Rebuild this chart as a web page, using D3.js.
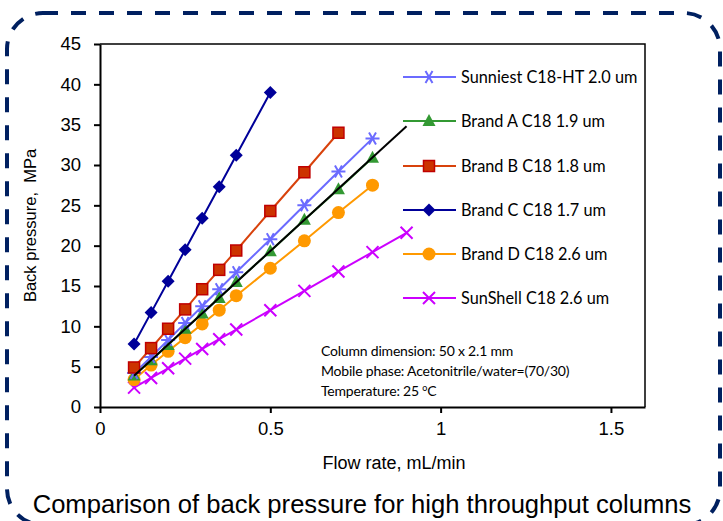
<!DOCTYPE html>
<html>
<head>
<meta charset="utf-8">
<script src="https://cdn.jsdelivr.net/npm/d3@7"></script>
<style>
  body { margin: 0; background: #fff; }
  .axis text { font-family: "Liberation Sans", Arial, sans-serif; font-size: 18.5px; fill: #000; }
  .axis path, .axis line { stroke: #000; stroke-width: 2px; }
  .leg text, .note text { font-family: Lato, "Open Sans", sans-serif; fill: #000; }
</style>
</head>
<body>
<script>

// flow rate, mL/min
var flow = [0.1, 0.15, 0.2, 0.25, 0.3, 0.35, 0.4, 0.5, 0.6, 0.7, 0.8, 0.9];

// back pressure, MPa
var sunniest = [4.2, 6.2, 8.3, 10.4, 12.5, 14.6, 16.7, 20.8, 25.0, 29.2, 33.3];
var brandA   = [3.9, 5.8, 7.7, 9.7, 11.6, 13.5, 15.5, 19.3, 23.2, 27.0, 30.9];
var brandB   = [4.9, 7.3, 9.7, 12.1, 14.6, 17.0, 19.4, 24.3, 29.1, 34.0];
var brandC   = [7.8, 11.7, 15.6, 19.5, 23.4, 27.3, 31.2, 39.0];
var brandD   = [3.4, 5.2, 6.9, 8.6, 10.3, 12.0, 13.8, 17.2, 20.6, 24.1, 27.5];
var sunshell = [2.4, 3.6, 4.8, 6.0, 7.2, 8.4, 9.6, 12.0, 14.4, 16.8, 19.2, 21.6];

// linear trend line drawn on Brand A
var trendX = [0.1, 0.9];
var trendY = [3.87, 34.8];

var names = ["Sunniest C18-HT 2.0 um", "Brand A C18 1.9 um", "Brand B C18 1.8 um",
             "Brand C C18 1.7 um", "Brand D C18 2.6 um", "SunShell C18 2.6 um"];

var xTicks = [0, 0.5, 1, 1.5];
var yTicks = [0, 5, 10, 15, 20, 25, 30, 35, 40, 45];

var series = [
  {name: names[0], vals: sunniest, color: "#6b6bff", fill: "#6b6bff", shape: "star"},
  {name: names[1], vals: brandA,   color: "#339933", fill: "#339933", shape: "tri"},
  {name: names[2], vals: brandB,   color: "#d8420c", fill: "#cc3300", shape: "square", edge: "#c00000"},
  {name: names[3], vals: brandC,   color: "#000099", fill: "#000099", shape: "diamond"},
  {name: names[4], vals: brandD,   color: "#ff9900", fill: "#ff9900", shape: "circle"},
  {name: names[5], vals: sunshell, color: "#cc00ff", fill: "#cc00ff", shape: "x"}
];

var W = 723, H = 521;
var svg = d3.select("body").append("svg")
    .attr("width", W)
    .attr("height", H);

// dashed rounded frame
svg.append("rect")
    .attr("x", 7).attr("y", 13)
    .attr("width", 713).attr("height", 512)
    .attr("rx", 36).attr("ry", 36)
    .attr("fill", "none")
    .attr("stroke", "#002060")
    .attr("stroke-width", 4)
    .attr("stroke-dasharray", "15,13");

var x = d3.scaleLinear().domain([0, 1.6]).range([100, 645]);
var y = d3.scaleLinear().domain([0, 45]).range([407, 44]);

// plot area frame (top + right)
svg.append("path")
    .attr("d", "M" + x(0) + "," + y(45) + "H" + x(1.6) + "V" + y(0))
    .attr("fill", "none")
    .attr("stroke", "#000")
    .attr("stroke-width", 1.5);

// axes
svg.append("g")
    .attr("class", "axis")
    .attr("transform", "translate(0," + y(0) + ")")
    .call(d3.axisBottom(x).tickValues(xTicks).tickSize(6).tickSizeOuter(0).tickPadding(9)
        .tickFormat(function(d) { return d; }));

svg.append("g")
    .attr("class", "axis")
    .attr("transform", "translate(" + x(0) + ",0)")
    .call(d3.axisLeft(y).tickValues(yTicks).tickSize(6).tickSizeOuter(0).tickPadding(13));

svg.append("text")
    .attr("x", 394).attr("y", 469)
    .attr("text-anchor", "middle")
    .style("font-family", "'Liberation Sans', Arial, sans-serif")
    .style("font-size", "18px")
    .text("Flow rate, mL/min");

svg.append("text")
    .attr("transform", "translate(36," + ((y(0) + y(45)) / 2) + ") rotate(-90)")
    .attr("text-anchor", "middle")
    .style("font-family", "'Liberation Sans', Arial, sans-serif")
    .style("font-size", "16.5px")
    .style("white-space", "pre")
    .text("Back pressure,  MPa");

svg.append("text")
    .attr("x", 362).attr("y", 513)
    .attr("text-anchor", "middle")
    .style("font-family", "'Liberation Sans', Arial, sans-serif")
    .style("font-size", "25.6px")
    .text("Comparison of back pressure for high throughput columns");

// marker drawing
function marker(g, s) {
  if (s.shape == "star") {
    g.append("path").attr("d", "M-7,0H7M-3.5,-6L3.5,6M-3.5,6L3.5,-6")
      .attr("stroke", s.color).attr("stroke-width", 2).attr("fill", "none");
  } else if (s.shape == "x") {
    g.append("path").attr("d", "M-6,-6L6,6M-6,6L6,-6")
      .attr("stroke", s.color).attr("stroke-width", 2).attr("fill", "none");
  } else if (s.shape == "tri") {
    g.append("path").attr("d", "M0,-7L6.5,5L-6.5,5Z").attr("fill", s.fill);
  } else if (s.shape == "square") {
    g.append("rect").attr("x", -5.5).attr("y", -5.5).attr("width", 11).attr("height", 11)
      .attr("fill", s.fill).attr("stroke", s.edge).attr("stroke-width", 1.5);
  } else if (s.shape == "diamond") {
    g.append("path").attr("d", "M0,-6.5L6.5,0L0,6.5L-6.5,0Z").attr("fill", s.fill);
  } else {
    g.append("circle").attr("r", 6.5).attr("fill", s.fill);
  }
}

var line = d3.line()
    .x(function(d) { return x(d[0]); })
    .y(function(d) { return y(d[1]); });

// draw order: bottom first
var order = [5, 4, 1, 0, 2, 3];
order.forEach(function(i) {
  var s = series[i];
  var pts = s.vals.map(function(v, j) { return [flow[j], v]; });
  svg.append("path")
      .datum(pts)
      .attr("fill", "none")
      .attr("stroke", s.color)
      .attr("stroke-width", 2)
      .attr("d", line);
  svg.selectAll(null)
      .data(pts)
      .enter().append("g")
      .attr("transform", function(d) { return "translate(" + x(d[0]) + "," + y(d[1]) + ")"; })
      .each(function() { marker(d3.select(this), s); });
});

// trend line
svg.append("path")
    .datum(trendX.map(function(v, j) { return [v, trendY[j]]; }))
    .attr("fill", "none")
    .attr("stroke", "#000")
    .attr("stroke-width", 2)
    .attr("d", line);

// legend
var leg = svg.append("g").attr("class", "leg");
var legY = [77, 121, 166, 210, 254, 298];
series.forEach(function(s, i) {
  var g = leg.append("g").attr("transform", "translate(0," + legY[i] + ")");
  g.append("line").attr("x1", 403).attr("x2", 456)
      .attr("stroke", s.color).attr("stroke-width", 2);
  marker(g.append("g").attr("transform", "translate(429,0)"), s);
  g.append("text").attr("x", 461).attr("dy", "0.35em")
      .style("font-size", "16.3px")
      .text(s.name);
});

// conditions note
var note = svg.append("g").attr("class", "note");
var noteLines = ["Column dimension: 50 x 2.1 mm", "Mobile phase: Acetonitrile/water=(70/30)"];
noteLines.forEach(function(t, i) {
  note.append("text").attr("x", 321).attr("y", 356 + i * 20)
      .style("font-size", "14px").style("letter-spacing", "-0.2px").text(t);
});
var temp = note.append("text").attr("x", 321).attr("y", 396)
    .style("font-size", "14px").style("letter-spacing", "-0.2px");
temp.append("tspan").text("Temperature: 25 ");
temp.append("tspan").attr("dy", -5).style("font-size", "9px").text("o");
temp.append("tspan").attr("dy", 5).text("C");

</script>
</body>
</html>
